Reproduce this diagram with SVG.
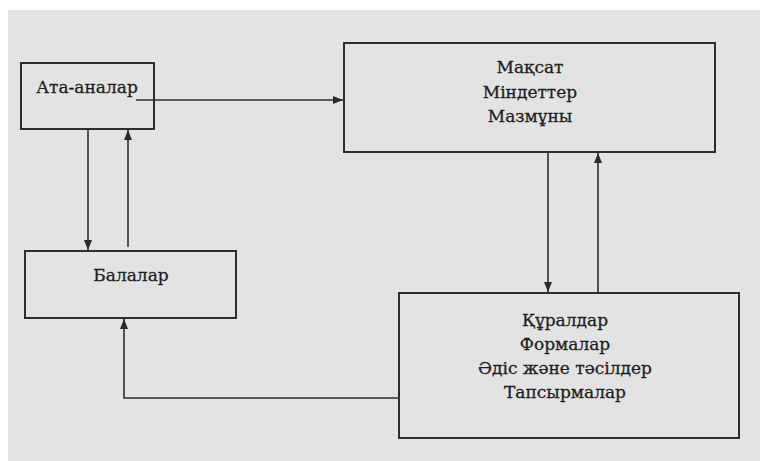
<svg xmlns="http://www.w3.org/2000/svg" width="760" height="461" viewBox="0 0 760 461">
<defs>
<marker id="ah" markerWidth="10" markerHeight="8" refX="10" refY="4" orient="auto" markerUnits="userSpaceOnUse">
<path d="M0,0 L10,4 L0,8 Z" fill="#2a2a2a"/>
</marker>
<style>
.box{fill:none;stroke:#2e2e2e;stroke-width:2}
.ln{fill:none;stroke:#2e2e2e;stroke-width:1.6}
.t{font-family:"DejaVu Serif",serif;font-size:17px;fill:#1e1e1e;stroke:#1e1e1e;stroke-width:0.3;text-anchor:middle}
</style>
</defs>
<rect x="0" y="0" width="760" height="461" fill="#ffffff"/>
<rect x="8" y="10" width="752" height="451" fill="#e3e3e3"/>
<g id="connectors">
<line class="ln" x1="136" y1="100" x2="343" y2="100" marker-end="url(#ah)"/>
<line class="ln" x1="88" y1="129" x2="88" y2="250" marker-end="url(#ah)"/>
<line class="ln" x1="128" y1="247" x2="128" y2="130" marker-end="url(#ah)"/>
<line class="ln" x1="548" y1="152" x2="548" y2="292" marker-end="url(#ah)"/>
<line class="ln" x1="598" y1="293" x2="598" y2="153" marker-end="url(#ah)"/>
<polyline class="ln" points="399,398 124,398 124,319" marker-end="url(#ah)"/>
</g>
<g id="ata-analar">
<rect class="box" x="21" y="63" width="133" height="66"/>
<text class="t" x="87" y="93">Ата-аналар</text>
</g>
<g id="maksat">
<rect class="box" x="344" y="43" width="371" height="109"/>
<text class="t" x="530" y="73">Мақсат</text>
<text class="t" x="530" y="98">Міндеттер</text>
<text class="t" x="530" y="122">Мазмұны</text>
</g>
<g id="balalar">
<rect class="box" x="25" y="251" width="211" height="67"/>
<text class="t" x="131" y="281">Балалар</text>
</g>
<g id="kuraldar">
<rect class="box" x="399" y="293" width="340" height="145"/>
<text class="t" x="565" y="326">Құралдар</text>
<text class="t" x="565" y="350">Формалар</text>
<text class="t" x="565" y="374">Әдіс және тәсілдер</text>
<text class="t" x="565" y="398">Тапсырмалар</text>
</g>
</svg>
